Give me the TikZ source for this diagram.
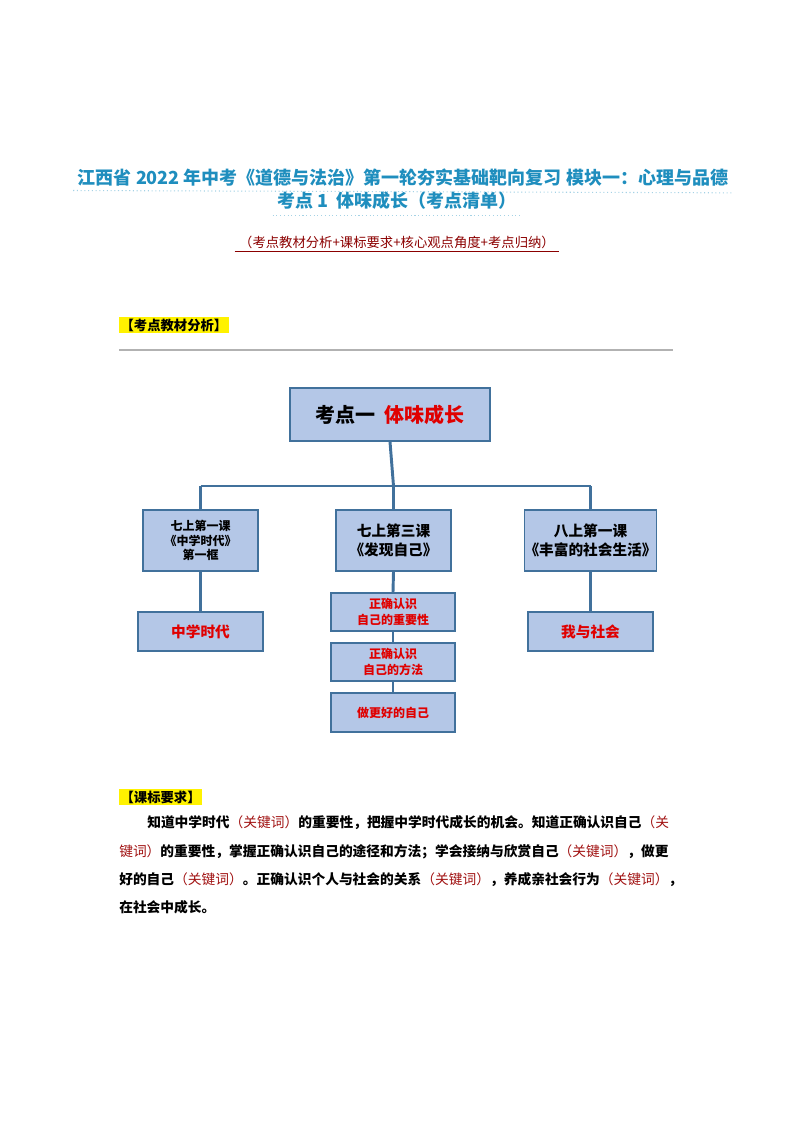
\documentclass[tikz,border=0pt]{standalone}
\usepackage{fontspec}
\newfontfamily\cjk{Noto Sans CJK SC}
\definecolor{ttl}{HTML}{1F8EBE}
\definecolor{sub}{HTML}{8B0000}
\definecolor{kw}{HTML}{A01010}
\definecolor{bfill}{HTML}{B4C7E7}
\definecolor{bline}{HTML}{41719C}
\definecolor{rd}{HTML}{E00000}
\tikzset{
  bx/.style={draw=bline,line width=1.2pt,fill=bfill,inner sep=0pt,align=center,font=\cjk\bfseries},
  conn/.style={draw=bline,line width=2.2pt},
  hl/.style={fill=yellow,inner sep=1pt,font=\cjk\bfseries\fontsize{10pt}{12pt}\selectfont,anchor=west},
  para/.style={anchor=west,inner sep=0pt,font=\cjk\bfseries\fontsize{10.3pt}{12pt}\selectfont}
}
\newcommand{\kwd}[1]{\textcolor{kw}{\mdseries #1}}
\begin{document}
\begin{tikzpicture}[x=0.75pt,y=-0.75pt]
\useasboundingbox (0,0) rectangle (794,1123);
% titles
\node[font=\cjk\bfseries\fontsize{13.5pt}{16pt}\selectfont,text=ttl] (t1) at (403,178) {江西省 2022 年中考《道德与法治》第一轮夯实基础靶向复习\ 模块一：心理与品德};
\node[font=\cjk\bfseries\fontsize{13.5pt}{16pt}\selectfont,text=ttl] (t2) at (397,201) {考点 1\ \ 体味成长（考点清单）};
\draw[ttl!40,dotted,line width=0.8pt] (t1.south west)++(0,-1) -- ([yshift=-1pt]t1.south east);
\draw[ttl!40,dotted,line width=0.8pt] ([yshift=-1pt]t2.south west) -- ([yshift=-1pt]t2.south east);
\node[font=\cjk\fontsize{10pt}{12pt}\selectfont,text=sub] (st) at (397,242) {（考点教材分析+课标要求+核心观点角度+考点归纳）};
\draw[sub,line width=0.6pt] ([yshift=1pt]st.south west) -- ([yshift=1pt]st.south east);
\node[hl] (h1) at (119,325) {【考点教材分析】};
\coordinate (g1) at (119,350); \coordinate (g2) at (673,350);
\draw[gray!60,line width=0.8pt] (g1) -- (g2);
% diagram
\node[bx,minimum width=150pt,minimum height=39.75pt,font=\cjk\bfseries\fontsize{15pt}{18pt}\selectfont] (top) at (390,414.5) {考点一\ \ \textcolor{rd}{体味成长}};
\node[bx,minimum width=86.25pt,minimum height=45.75pt,font=\cjk\bfseries\fontsize{9pt}{11pt}\selectfont] (l1) at (200.5,540.5) {七上第一课\\《中学时代》\\第一框};
\node[bx,minimum width=86.25pt,minimum height=45.75pt,font=\cjk\bfseries\fontsize{11pt}{14pt}\selectfont] (m1) at (393.5,540.5) {七上第三课\\《发现自己》};
\node[bx,minimum width=93.75pt,minimum height=45.75pt,font=\cjk\bfseries\fontsize{11pt}{14pt}\selectfont] (r1) at (590.5,540.5) {八上第一课\\《丰富的社会生活》};
\node[bx,minimum width=93.75pt,minimum height=29.25pt,font=\cjk\bfseries\fontsize{11pt}{14pt}\selectfont,text=rd] (l2) at (200.5,631.5) {中学时代};
\node[bx,minimum width=93.75pt,minimum height=29.25pt,font=\cjk\bfseries\fontsize{11pt}{14pt}\selectfont,text=rd] (r2) at (590.5,631.5) {我与社会};
\node[bx,minimum width=93pt,minimum height=28.5pt,font=\cjk\bfseries\fontsize{9pt}{11.5pt}\selectfont,text=rd] (m2) at (393,612) {正确认识\\自己的重要性};
\node[bx,minimum width=93pt,minimum height=28.5pt,font=\cjk\bfseries\fontsize{9pt}{11.5pt}\selectfont,text=rd] (m3) at (393,662) {正确认识\\自己的方法};
\node[bx,minimum width=93pt,minimum height=29.25pt,font=\cjk\bfseries\fontsize{9pt}{11.5pt}\selectfont,text=rd] (m4) at (393,712.5) {做更好的自己};
\coordinate (jn) at (393.5,486);
\coordinate (jl) at (200.5,486);
\coordinate (jr) at (590.5,486);
\begin{scope}[on background layer/.style={}]
\draw[conn] (top.south) -- (jn);
\draw[conn] (jl) -- (jr);
\draw[conn] (jl) -- (l1.north);
\draw[conn] (jn) -- (m1.north);
\draw[conn] (jr) -- (r1.north);
\draw[conn] (l1.south) -- (l2.north);
\draw[conn] (r1.south) -- (r2.north);
\draw[conn] (m1.south) -- (m2.north);
\draw[conn] (m2.south) -- (m3.north);
\draw[conn] (m3.south) -- (m4.north);
\end{scope}
% requirements
\node[hl] (h2) at (119,797) {【课标要求】};
\node[para] (p1) at (147,823) {知道中学时代\kwd{（关键词）}的重要性，把握中学时代成长的机会。知道正确认识自己\kwd{（关}};
\node[para] (p2) at (119,852) {\kwd{键词）}的重要性，掌握正确认识自己的途径和方法；学会接纳与欣赏自己\kwd{（关键词）}，做更};
\node[para] (p3) at (119,880) {好的自己\kwd{（关键词）}。正确认识个人与社会的关系\kwd{（关键词）}，养成亲社会行为\kwd{（关键词）}，};
\node[para] (p4) at (119,907) {在社会中成长。};
\end{tikzpicture}
\end{document}
